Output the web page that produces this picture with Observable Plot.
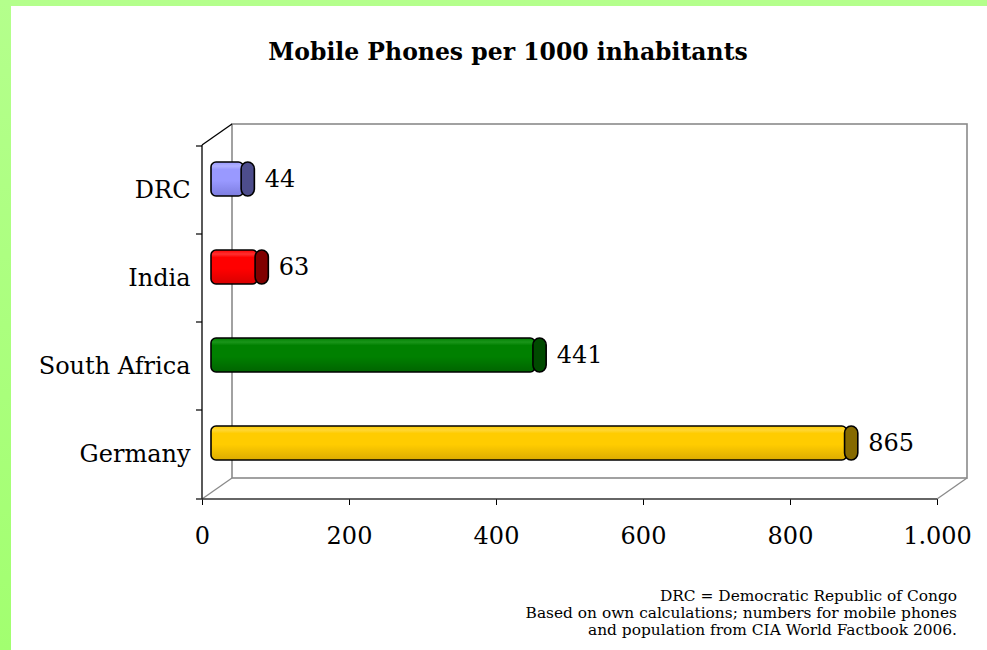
<!DOCTYPE html>
<html><head><meta charset="utf-8">
<script src="https://cdn.jsdelivr.net/npm/d3@7"></script>
<script src="https://cdn.jsdelivr.net/npm/@observablehq/plot@0.6"></script>
<style>
html,body{margin:0;padding:0;width:987px;height:650px;overflow:hidden;}
body{background:linear-gradient(#b4ff8c,#a2ff70);position:relative;font-family:"DejaVu Serif",serif;color:#000;}
#panel{position:absolute;left:11px;top:6px;width:976px;height:644px;background:#fff;}
#title{position:absolute;left:0;width:994px;top:32px;text-align:center;font-weight:bold;font-size:23.5px;line-height:28px;}
#chart{position:absolute;left:0;top:94px;}
#caption{position:absolute;right:30px;top:582px;text-align:right;font-size:15.4px;line-height:17px;white-space:nowrap;}
</style></head>
<body>
<div id="panel">
  <div id="title">Mobile Phones per 1000 inhabitants</div>
  <div id="chart"></div>
  <div id="caption">DRC = Democratic Republic of Congo<br>Based on own calculations; numbers for mobile phones<br>and population from CIA World Factbook 2006.</div>
</div>
<script>
const categories = ["DRC", "India", "South Africa", "Germany"];
const values = [44, 63, 441, 865];
const xTicks = [0, 200, 400, 600, 800, 1000];
const bodyTop = ["#b0b0ff", "#ff3030", "#1a951a", "#ffd633"];
const bodyMid = ["#9999ff", "#ff0000", "#008000", "#ffcc00"];
const bodyBottom = ["#7d7de0", "#d80000", "#006400", "#dcac00"];
const capColors = ["#4d4d8c", "#800000", "#004a00", "#866a00"];

const data = categories.map((c, i) => ({country: c, value: values[i], id: i}));
const fmt = d3.formatLocale({decimal: ",", thousands: ".", grouping: [3], currency: ["", "€"]}).format(",d");

const frame3d = (index, scales, vals, dims) => {
  const x = scales.x, y = scales.y;
  const x0 = x(0), x1 = x(1000);
  const top = dims.marginTop, bottom = dims.height - dims.marginBottom;
  const ddx = 30, ddy = -21;
  const g = d3.create("svg:g");
  g.append("rect").attr("x", x0 + ddx).attr("y", top + ddy).attr("width", x1 - x0).attr("height", bottom - top)
    .attr("fill", "none").attr("stroke", "#8a8a8a").attr("stroke-width", 1.6);
  const diag = [[x0, bottom], [x1, bottom], [x0, top]];
  for (const [px, py] of diag) {
    g.append("line").attr("x1", px).attr("y1", py).attr("x2", px + ddx).attr("y2", py + ddy)
      .attr("stroke", px === x0 && py === top ? "#000" : "#8a8a8a").attr("stroke-width", 1.3);
  }
  g.append("line").attr("x1", x0).attr("y1", top).attr("x2", x0).attr("y2", bottom).attr("stroke", "#000").attr("stroke-width", 1.3);
  g.append("line").attr("x1", x0 - 6).attr("y1", bottom).attr("x2", x1).attr("y2", bottom).attr("stroke", "#333").attr("stroke-width", 1.5);
  const bounds = categories.map(c => y(c));
  for (const b of bounds) {
    g.append("line").attr("x1", x0 - 6).attr("y1", b).attr("x2", x0).attr("y2", b).attr("stroke", "#000").attr("stroke-width", 1.2);
  }
  return g.node();
};

const capW = 15;
const chart = Plot.plot({
  width: 976,
  height: 460,
  marginLeft: 191,
  marginRight: 50,
  marginTop: 45,
  marginBottom: 61,
  style: {fontFamily: "DejaVu Serif, serif", fontSize: "24px", color: "#000", background: "transparent", overflow: "visible"},
  x: {domain: [0, 1000], ticks: xTicks, tickFormat: fmt, tickSize: 6, tickPadding: 21, label: null},
  y: {domain: categories, padding: 0, tickSize: 0, tickPadding: 12, label: null},
  color: {type: "identity"},
  marks: [
    frame3d,
    Plot.barX(data, {y: "country", x1: 0, x2: "value", fill: d => `url(#gb${d.id})`, stroke: "#000", strokeWidth: 1.6,
      insetTop: 27, insetBottom: 27, dx: 9, dy: -11, rx: 5}),
    Plot.barX(data, {y: "country", x1: d => d.value - 3, x2: d => d.value + capW, fill: d => capColors[d.id], stroke: "#000", strokeWidth: 1.6,
      insetTop: 27, insetBottom: 27, dx: 9, dy: -11, rx: 7}),
    Plot.text(data, {y: "country", x: "value", text: d => String(d.value), dx: 30, dy: -11, textAnchor: "start", fontSize: 24, fill: "#000"})
  ]
});

const svg = d3.select(chart);
const defs = svg.insert("defs", ":first-child");
data.forEach(d => {
  const lg = defs.append("linearGradient").attr("id", `gb${d.id}`).attr("x1", 0).attr("y1", 0).attr("x2", 0).attr("y2", 1);
  lg.append("stop").attr("offset", "0").attr("stop-color", bodyMid[d.id]);
  lg.append("stop").attr("offset", "0.12").attr("stop-color", bodyTop[d.id]);
  lg.append("stop").attr("offset", "0.22").attr("stop-color", bodyMid[d.id]);
  lg.append("stop").attr("offset", "0.55").attr("stop-color", bodyMid[d.id]);
  lg.append("stop").attr("offset", "1").attr("stop-color", bodyBottom[d.id]);
});
document.getElementById("chart").appendChild(chart);
</script>
</body></html>
